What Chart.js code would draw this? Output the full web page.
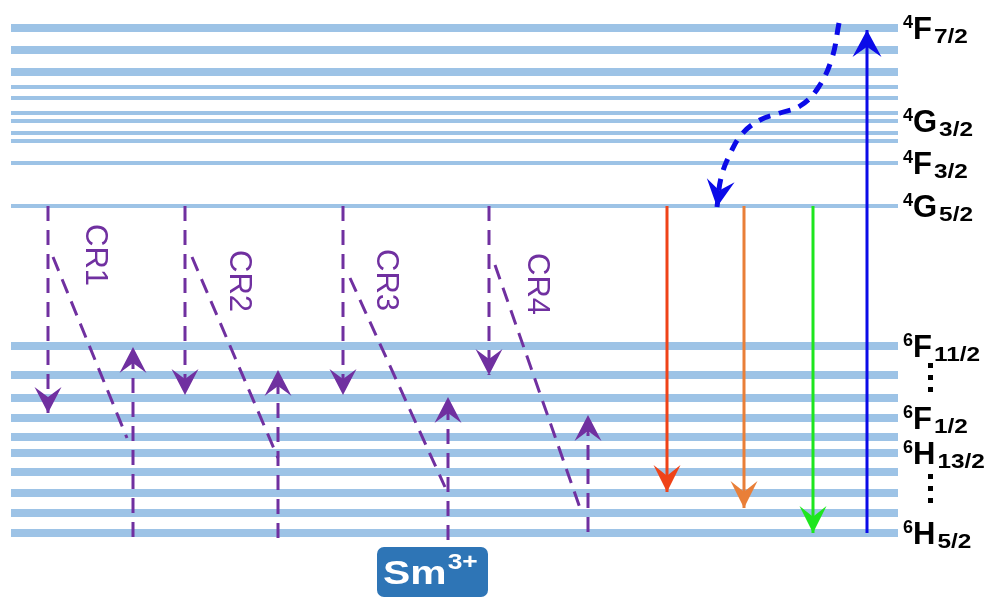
<!DOCTYPE html>
<html>
<head>
<meta charset="utf-8">
<title>Sm3+ energy levels and cross-relaxation</title>
<script src="https://cdn.jsdelivr.net/npm/chart.js@4.4.1/dist/chart.umd.min.js"></script>
<style>
  html, body { margin: 0; padding: 0; background: #ffffff; overflow: hidden; }
  canvas { display: block; }
</style>
</head>
<body>
<canvas id="levels" width="993" height="599"></canvas>
<script>
// ---- Energy levels of Sm3+ (diagram units, ground state 6H5/2 = 0) ----
const groundManifold = [0, 20, 40, 61, 80, 96, 115, 135, 158, 187];
const excitedManifold = [327, 370, 392, 400, 412, 420, 435, 446, 461, 483, 505];

// ---- Term symbols written at the right end of the levels ----
const termMult = ['4', '4', '4', '4', '6', '6', '6', '6'];
const termLetter = ['F', 'G', 'F', 'G', 'F', 'F', 'H', 'H'];
const termJ = ['7/2', '3/2', '3/2', '5/2', '11/2', '1/2', '13/2', '5/2'];
const termEnergy = [505, 412, 370, 327, 187, 115, 80, 0];
// vertical ellipses between these pairs of labelled levels
const ellipsisFrom = [187, 80];
const ellipsisTo = [115, 0];

// ---- Cross-relaxation channels ----
const crNames = ['CR1', 'CR2', 'CR3', 'CR4'];
const crDownLane = [48, 185, 343, 489];
const crDownStart = [327, 327, 327, 327];
const crDownEnd = [120, 138, 138, 158];
const crUpLane = [133, 278, 448, 588];
const crUpStart = [-4, -5, -7, 1];
const crUpEnd = [186, 163, 136, 118];
const crDiagStartLane = [53, 192, 350, 495];
const crDiagStart = [276, 276, 255, 268];
const crDiagEndLane = [127, 278, 445, 580];
const crDiagEnd = [95, 75, 46, 25];

// ---- Radiative emissions from 4G5/2 ----
const emitLane = [667, 744, 813];
const emitStart = [327, 327, 327];
const emitEnd = [41, 25, 0];

// ---- Pump 6H5/2 -> 4F7/2 ----
const pumpLane = [867, 867];
const pumpEnergy = [0, 503];

// ---- Non-radiative relaxation 4F7/2 -> 4G5/2 ----
const relaxLane = [839, 832, 818, 800, 780, 760, 742, 730, 721, 717];
const relaxEnergy = [510, 475, 445, 427, 420, 413, 399, 379, 355, 326];

// ---- Horizontal extent of the level lines ----
const levelSpan = [11, 898];

// ---- Styles ----
const LEVEL_COLOR = '#9dc3e6';
const PURPLE = '#7030a0';
const EMIT_COLORS = ['#ef4318', '#e97f38', '#1ee61e'];
const BLUE = '#0b0be8';
const FONT = '"Liberation Sans", Arial, Helvetica, sans-serif';

const levelWidth = e => (e > 300 && e < 455) ? 4 : 8;

const datasets = [];

// level lines (drawn underneath everything)
[...groundManifold, ...excitedManifold].forEach(e => {
  datasets.push({
    data: [{ x: levelSpan[0], y: e }, { x: levelSpan[1], y: e }],
    borderColor: LEVEL_COLOR,
    borderWidth: levelWidth(e),
    borderCapStyle: 'butt',
    order: 10
  });
});

const purpleHead = { len: 26, half: 13.5, notch: 0.62 };
const emitHead = { len: 27, half: 13.5, notch: 0.6 };

function seg(xs, ys, color, width, dash, head, extra) {
  return Object.assign({
    data: xs.map((x, i) => ({ x, y: ys[i] })),
    borderColor: color,
    borderWidth: width,
    borderDash: dash,
    borderCapStyle: 'butt',
    arrowHead: head,
    order: 1
  }, extra || {});
}

crNames.forEach((name, i) => {
  datasets.push(seg([crDownLane[i], crDownLane[i]], [crDownStart[i], crDownEnd[i]], PURPLE, 3, [15, 9], purpleHead));
  datasets.push(seg([crDiagStartLane[i], crDiagEndLane[i]], [crDiagStart[i], crDiagEnd[i]], PURPLE, 3, [15, 9], null));
  datasets.push(seg([crUpLane[i], crUpLane[i]], [crUpStart[i], crUpEnd[i]], PURPLE, 3, [15, 9], purpleHead));
});

emitLane.forEach((lane, i) => {
  datasets.push(seg([lane, lane], [emitStart[i], emitEnd[i]], EMIT_COLORS[i], 3, [], emitHead));
});

datasets.push(seg(pumpLane, pumpEnergy, BLUE, 3, [], { len: 27, half: 14.5, notch: 0.62 }));
datasets.push(seg(relaxLane, relaxEnergy, BLUE, 5, [12, 9], { len: 27, half: 14, notch: 0.62 }, { tension: 0.4 }));

// arrowheads at the last point of a dataset, oriented along its final segment
const arrowHeads = {
  id: 'arrowHeads',
  afterDatasetsDraw(chart) {
    const ctx = chart.ctx;
    chart.data.datasets.forEach((ds, i) => {
      if (!ds.arrowHead) return;
      const pts = chart.getDatasetMeta(i).data;
      const p1 = pts[pts.length - 1], p0 = pts[pts.length - 2];
      const ang = Math.atan2(p1.y - p0.y, p1.x - p0.x);
      const h = ds.arrowHead;
      ctx.save();
      ctx.translate(p1.x, p1.y);
      ctx.rotate(ang);
      ctx.beginPath();
      ctx.moveTo(0, 0);
      ctx.lineTo(-h.len, -h.half);
      ctx.lineTo(-h.len * h.notch, 0);
      ctx.lineTo(-h.len, h.half);
      ctx.closePath();
      ctx.fillStyle = ds.borderColor;
      ctx.fill();
      ctx.restore();
    });
  }
};

// text: CR names, term symbols, ellipses and the ion badge
const crLabelShift = [[48, 49], [55, 75], [44, 74], [49, 78]];

const annotations = {
  id: 'annotations',
  afterDraw(chart) {
    const ctx = chart.ctx;
    const xs = chart.scales.x, ys = chart.scales.y;
    const topY = ys.getPixelForValue(327);

    // CR labels, rotated to read downward
    ctx.save();
    ctx.fillStyle = PURPLE;
    ctx.font = '31px ' + FONT;
    ctx.textAlign = 'center';
    ctx.textBaseline = 'middle';
    crNames.forEach((name, i) => {
      const cx = xs.getPixelForValue(crDownLane[i]) + crLabelShift[i][0];
      const cy = topY + crLabelShift[i][1];
      ctx.save();
      ctx.translate(cx, cy);
      ctx.rotate(Math.PI / 2);
      ctx.fillText(name, 0, 1);
      ctx.restore();
    });
    ctx.restore();

    // term symbols
    const x0 = xs.getPixelForValue(levelSpan[1]) + 5;
    ctx.save();
    ctx.fillStyle = '#000000';
    ctx.textAlign = 'left';
    ctx.textBaseline = 'alphabetic';
    termLetter.forEach((L, i) => {
      const base = ys.getPixelForValue(termEnergy[i]) + 11;
      ctx.font = 'bold 18px ' + FONT;
      ctx.fillText(termMult[i], x0, base - 11);
      const mx = x0 + ctx.measureText(termMult[i]).width;
      ctx.font = 'bold 31px ' + FONT;
      ctx.fillText(L, mx, base);
      const sx = mx + ctx.measureText(L).width + 2;
      ctx.font = 'bold 20px ' + FONT;
      ctx.save();
      ctx.translate(sx, base + 4);
      ctx.scale(1.22, 1);
      ctx.fillText(termJ[i], 0, 0);
      ctx.restore();
    });

    // vertical ellipses
    ellipsisFrom.forEach((eA, i) => {
      const mid = (ys.getPixelForValue(eA) + ys.getPixelForValue(ellipsisTo[i])) / 2 - 5;
      for (let k = -1; k <= 1; k++) {
        ctx.fillRect(x0 + 25, mid + k * 12 - 2, 5, 5);
      }
    });
    ctx.restore();

    // Sm3+ badge under CR3
    const bx = xs.getPixelForValue(crUpLane[2]) - 71;
    const by = ys.getPixelForValue(0) + 14;
    ctx.save();
    ctx.fillStyle = '#2e75b6';
    ctx.beginPath();
    ctx.roundRect(bx, by, 111, 50, 7);
    ctx.fill();
    ctx.fillStyle = '#ffffff';
    ctx.textBaseline = 'alphabetic';
    ctx.font = 'bold 34px ' + FONT;
    ctx.save();
    ctx.translate(bx + 6, by + 37);
    ctx.scale(1.2, 1);
    ctx.fillText('Sm', 0, 0);
    const smW = ctx.measureText('Sm').width;
    ctx.font = 'bold 22px ' + FONT;
    ctx.fillText('3+', smW + 1, -15);
    ctx.restore();
    ctx.restore();
  }
};

new Chart(document.getElementById('levels'), {
  type: 'scatter',
  data: { datasets: datasets.map(d => Object.assign({ showLine: true, pointRadius: 0, pointHoverRadius: 0, fill: false }, d)) },
  options: {
    responsive: false,
    devicePixelRatio: 1,
    animation: false,
    events: [],
    layout: { padding: 0 },
    plugins: { legend: { display: false }, tooltip: { enabled: false }, title: { display: false } },
    scales: {
      x: { type: 'linear', min: 0, max: 993, display: false },
      y: { type: 'linear', min: -66, max: 533, display: false }
    }
  },
  plugins: [arrowHeads, annotations]
});
</script>
</body>
</html>
